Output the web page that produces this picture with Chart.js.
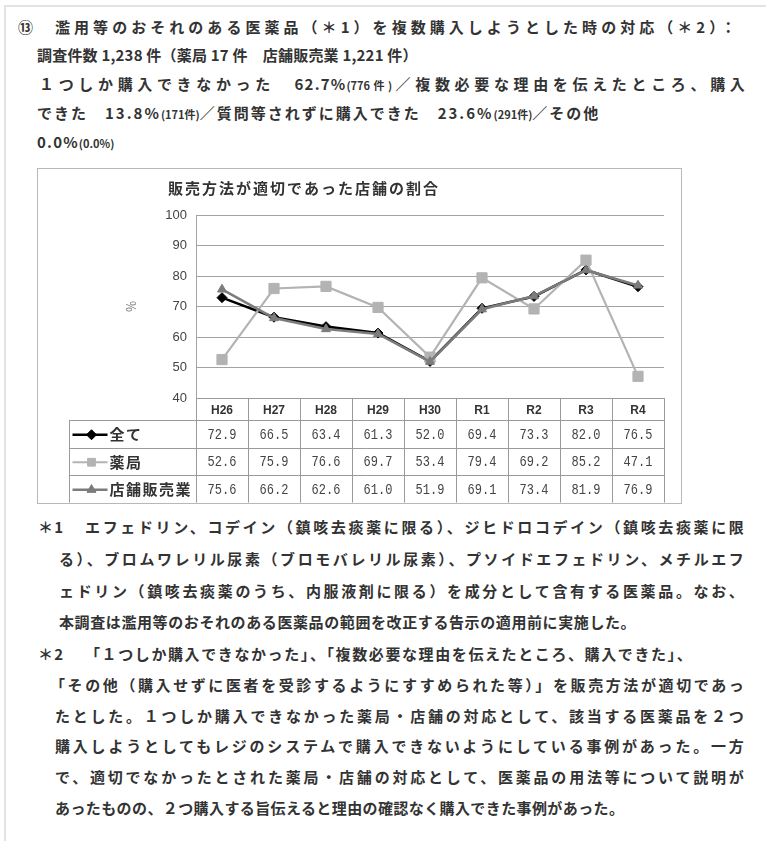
<!DOCTYPE html>
<html lang="ja">
<head>
<meta charset="utf-8">
<script src="https://cdn.jsdelivr.net/npm/chart.js@4.4.0/dist/chart.umd.min.js"></script>
<style>
  html, body { margin: 0; padding: 0; background: #fff; }
  body { width: 766px; height: 841px; position: relative; overflow: hidden;
         font-family: "Noto Sans CJK JP", sans-serif; color: #333; }
  .rule-top  { position: absolute; left: 4px; top: 5px; right: 0; border-top: 2px solid #e3e3e3; }
  .rule-left { position: absolute; left: 4px; top: 5px; bottom: 0; border-left: 2px solid #e3e3e3; }
  .ln { position: absolute; white-space: nowrap; font-size: 15px; letter-spacing: 1.2px;
        line-height: 20px; font-weight: 700; }
  .j  { white-space: normal; text-align: justify; text-align-last: justify; }
  .s  { font-size: 11px; letter-spacing: 0; }
  #box { position: absolute; left: 37px; top: 168px; width: 643px; height: 334px;
         border: 1px solid #b8b8b8; }
  #chart { position: absolute; left: 0; top: 0; }
</style>
</head>
<body>
<div class="rule-top"></div>
<div class="rule-left"></div>

<div class="ln" style="left:18px; top:17px;">⑬</div>
<div class="ln j" style="left:55px; top:17px; width:682px;">濫用等のおそれのある医薬品（＊1）を複数購入しようとした時の対応（＊2）：</div>
<div class="ln" style="left:37px; top:45px; letter-spacing:0.2px;">調査件数 1,238 件（薬局 17 件　店舗販売業 1,221 件）</div>
<div class="ln j" style="left:39px; top:74px; width:707px;">１つしか購入できなかった　62.7%<span class="s">(776件)</span>／複数必要な理由を伝えたところ、購入</div>
<div class="ln" style="left:37px; top:103px; letter-spacing:2px;">できた　13.8%<span class="s">(171件)</span>／質問等されずに購入できた　23.6%<span class="s">(291件)</span>／その他</div>
<div class="ln" style="left:37px; top:132px;">0.0%<span class="s">(0.0%)</span></div>

<div id="box"><canvas id="chart" width="643" height="334"></canvas></div>

<div class="ln" style="left:38px; top:517px;">＊1</div>
<div class="ln j" style="left:85px; top:517px; width:660px;">エフェドリン、コデイン（鎮咳去痰薬に限る）、ジヒドロコデイン（鎮咳去痰薬に限</div>
<div class="ln j" style="left:59px; top:549px; width:686px;">る）、ブロムワレリル尿素（ブロモバレリル尿素）、プソイドエフェドリン、メチルエフ</div>
<div class="ln j" style="left:59px; top:581px; width:686px;">ェドリン（鎮咳去痰薬のうち、内服液剤に限る）を成分として含有する医薬品。なお、</div>
<div class="ln" style="left:59px; top:612px; letter-spacing:0.6px;">本調査は濫用等のおそれのある医薬品の範囲を改正する告示の適用前に実施した。</div>
<div class="ln" style="left:38px; top:644px;">＊2</div>
<div class="ln" style="left:85px; top:644px; letter-spacing:1.6px;">「１つしか購入できなかった」、「複数必要な理由を伝えたところ、購入できた」、</div>
<div class="ln j" style="left:50px; top:675px; width:695px;">「その他（購入せずに医者を受診するようにすすめられた等）」を販売方法が適切であっ</div>
<div class="ln j" style="left:55px; top:706px; width:690px;">たとした。１つしか購入できなかった薬局・店舗の対応として、該当する医薬品を２つ</div>
<div class="ln j" style="left:55px; top:736px; width:690px;">購入しようとしてもレジのシステムで購入できないようにしている事例があった。一方</div>
<div class="ln j" style="left:55px; top:767px; width:690px;">で、適切でなかったとされた薬局・店舗の対応として、医薬品の用法等について説明が</div>
<div class="ln" style="left:55px; top:798px; letter-spacing:0.4px;">あったものの、２つ購入する旨伝えると理由の確認なく購入できた事例があった。</div>

<script>
// Survey years (Heisei / Reiwa)
const CATEGORIES = ['H26', 'H27', 'H28', 'H29', 'H30', 'R1', 'R2', 'R3', 'R4'];

// Share of stores with an appropriate sales method (%)
const ALL_VALUES      = [72.9, 66.5, 63.4, 61.3, 52.0, 69.4, 73.3, 82.0, 76.5];
const PHARMACY_VALUES = [52.6, 75.9, 76.6, 69.7, 53.4, 79.4, 69.2, 85.2, 47.1];
const STORE_VALUES    = [75.6, 66.2, 62.6, 61.0, 51.9, 69.1, 73.4, 81.9, 76.9];

const SERIES_NAMES = ['全て', '薬局', '店舗販売業'];
const CHART_TITLE  = '販売方法が適切であった店舗の割合';
const Y_TITLE      = '％';
const Y_MIN = 40, Y_MAX = 100, Y_STEP = 10;

const SERIES_STYLE = [
  { color: '#000000', width: 2.6, point: 'rectRot',  radius: 5,   order: 2 },
  { color: '#b3b3b3', width: 2.2, point: 'rect',     radius: 7.2, order: 1 },
  { color: '#7c7c7c', width: 2.6, point: 'triangle', radius: 5.2, order: 0 }
];
const SERIES_VALUES = [ALL_VALUES, PHARMACY_VALUES, STORE_VALUES];

const datasets = SERIES_NAMES.map((name, i) => ({
  label: name,
  data: SERIES_VALUES[i],
  borderColor: SERIES_STYLE[i].color,
  backgroundColor: SERIES_STYLE[i].color,
  borderWidth: SERIES_STYLE[i].width,
  pointStyle: SERIES_STYLE[i].point,
  pointRadius: SERIES_STYLE[i].radius,
  pointBackgroundColor: SERIES_STYLE[i].color,
  pointBorderColor: SERIES_STYLE[i].color,
  pointBorderWidth: 1,
  tension: 0,
  order: SERIES_STYLE[i].order
}));

// Chart title placed over the left part of the frame
const titlePlugin = {
  id: 'frameTitle',
  afterDraw(chart) {
    const ctx = chart.ctx;
    ctx.save();
    ctx.font = 'bold 15px "Noto Sans CJK JP", sans-serif';
    if ('letterSpacing' in ctx) ctx.letterSpacing = '2px';
    ctx.fillStyle = '#333';
    ctx.textAlign = 'center';
    ctx.textBaseline = 'middle';
    ctx.fillText(CHART_TITLE, 266, 19);
    ctx.restore();
  }
};

// Data table drawn under the category axis, with legend keys in the first column
const dataTablePlugin = {
  id: 'dataTable',
  afterDraw(chart) {
    const ctx = chart.ctx;
    const xs = chart.scales.x;
    const area = chart.chartArea;
    const colW = xs.getPixelForValue(1) - xs.getPixelForValue(0);
    const headTop = area.bottom;
    const headBot = xs.bottom;
    const tableBot = chart.height - 0.5;
    const rowH = (tableBot - headBot) / SERIES_NAMES.length;
    const keyLeft = 31.5;

    ctx.save();
    ctx.strokeStyle = '#9a9a9a';
    ctx.lineWidth = 1;
    ctx.beginPath();
    // horizontal rules
    for (let r = 0; r <= SERIES_NAMES.length; r++) {
      const y = Math.round(headBot + r * rowH) + 0.5;
      ctx.moveTo(keyLeft, y);
      ctx.lineTo(area.right, y);
    }
    // key column left edge
    ctx.moveTo(keyLeft, headBot);
    ctx.lineTo(keyLeft, tableBot);
    // column dividers
    for (let c = 0; c <= CATEGORIES.length; c++) {
      const x = Math.round(area.left + c * colW) + 0.5;
      ctx.moveTo(x, headTop);
      ctx.lineTo(x, tableBot);
    }
    ctx.stroke();

    // values
    ctx.fillStyle = '#444';
    ctx.textAlign = 'center';
    ctx.textBaseline = 'middle';
    SERIES_VALUES.forEach((vals, r) => {
      const cy = headBot + (r + 0.5) * rowH + 1;
      vals.forEach((v, c) => {
        const cx = xs.getPixelForValue(c);
        ctx.save();
        ctx.translate(cx, cy);
        ctx.scale(0.8, 1);
        ctx.font = '15px "Liberation Mono", monospace';
        ctx.fillText(v.toFixed(1), 0, 0);
        ctx.restore();
      });
    });

    // legend keys
    chart.data.datasets.forEach((ds, r) => {
      const cy = headBot + (r + 0.5) * rowH + 1;
      ctx.strokeStyle = ds.borderColor;
      ctx.fillStyle = ds.borderColor;
      ctx.lineWidth = ds.borderWidth;
      ctx.beginPath();
      ctx.moveTo(keyLeft + 3, cy);
      ctx.lineTo(keyLeft + 38, cy);
      ctx.stroke();
      ctx.lineWidth = 1;
      Chart.helpers.drawPoint(ctx, {
        pointStyle: ds.pointStyle,
        radius: Math.min(ds.pointRadius, 5.5),
        rotation: 0,
        borderWidth: 1
      }, keyLeft + 22, cy);
      ctx.fillStyle = '#333';
      ctx.textAlign = 'left';
      ctx.font = 'bold 15px "Noto Sans CJK JP", sans-serif';
      if ('letterSpacing' in ctx) ctx.letterSpacing = '1.5px';
      ctx.fillText(ds.label, keyLeft + 40, cy);
      if ('letterSpacing' in ctx) ctx.letterSpacing = '0px';
    });
    ctx.restore();
  }
};

new Chart(document.getElementById('chart'), {
  type: 'line',
  data: { labels: CATEGORIES, datasets },
  plugins: [titlePlugin, dataTablePlugin],
  options: {
    responsive: false,
    animation: false,
    devicePixelRatio: 1,
    layout: { padding: { left: 82, right: 17, top: 46, bottom: 83 } },
    plugins: { legend: { display: false }, tooltip: { enabled: false }, title: { display: false } },
    scales: {
      x: {
        offset: true,
        grid: { display: false, drawTicks: false },
        border: { display: true, color: '#9a9a9a' },
        ticks: {
          padding: 5,
          color: '#333',
          font: { family: '"Liberation Sans", sans-serif', size: 12, weight: 'bold' }
        },
        afterFit(scale) { scale.height = 22; }
      },
      y: {
        min: Y_MIN,
        max: Y_MAX,
        grid: { color: '#a3a3a3', lineWidth: 1, drawTicks: false },
        border: { display: true, color: '#a3a3a3' },
        ticks: {
          stepSize: Y_STEP,
          padding: 9,
          color: '#444',
          font: { family: '"Liberation Sans", sans-serif', size: 13 }
        },
        title: {
          display: true,
          text: Y_TITLE,
          color: '#777',
          font: { family: '"Noto Sans CJK JP", sans-serif', size: 12 },
          padding: { top: 4, bottom: 4 }
        },
        afterFit(scale) { scale.width = 76; }
      }
    }
  }
});
</script>
</body>
</html>
